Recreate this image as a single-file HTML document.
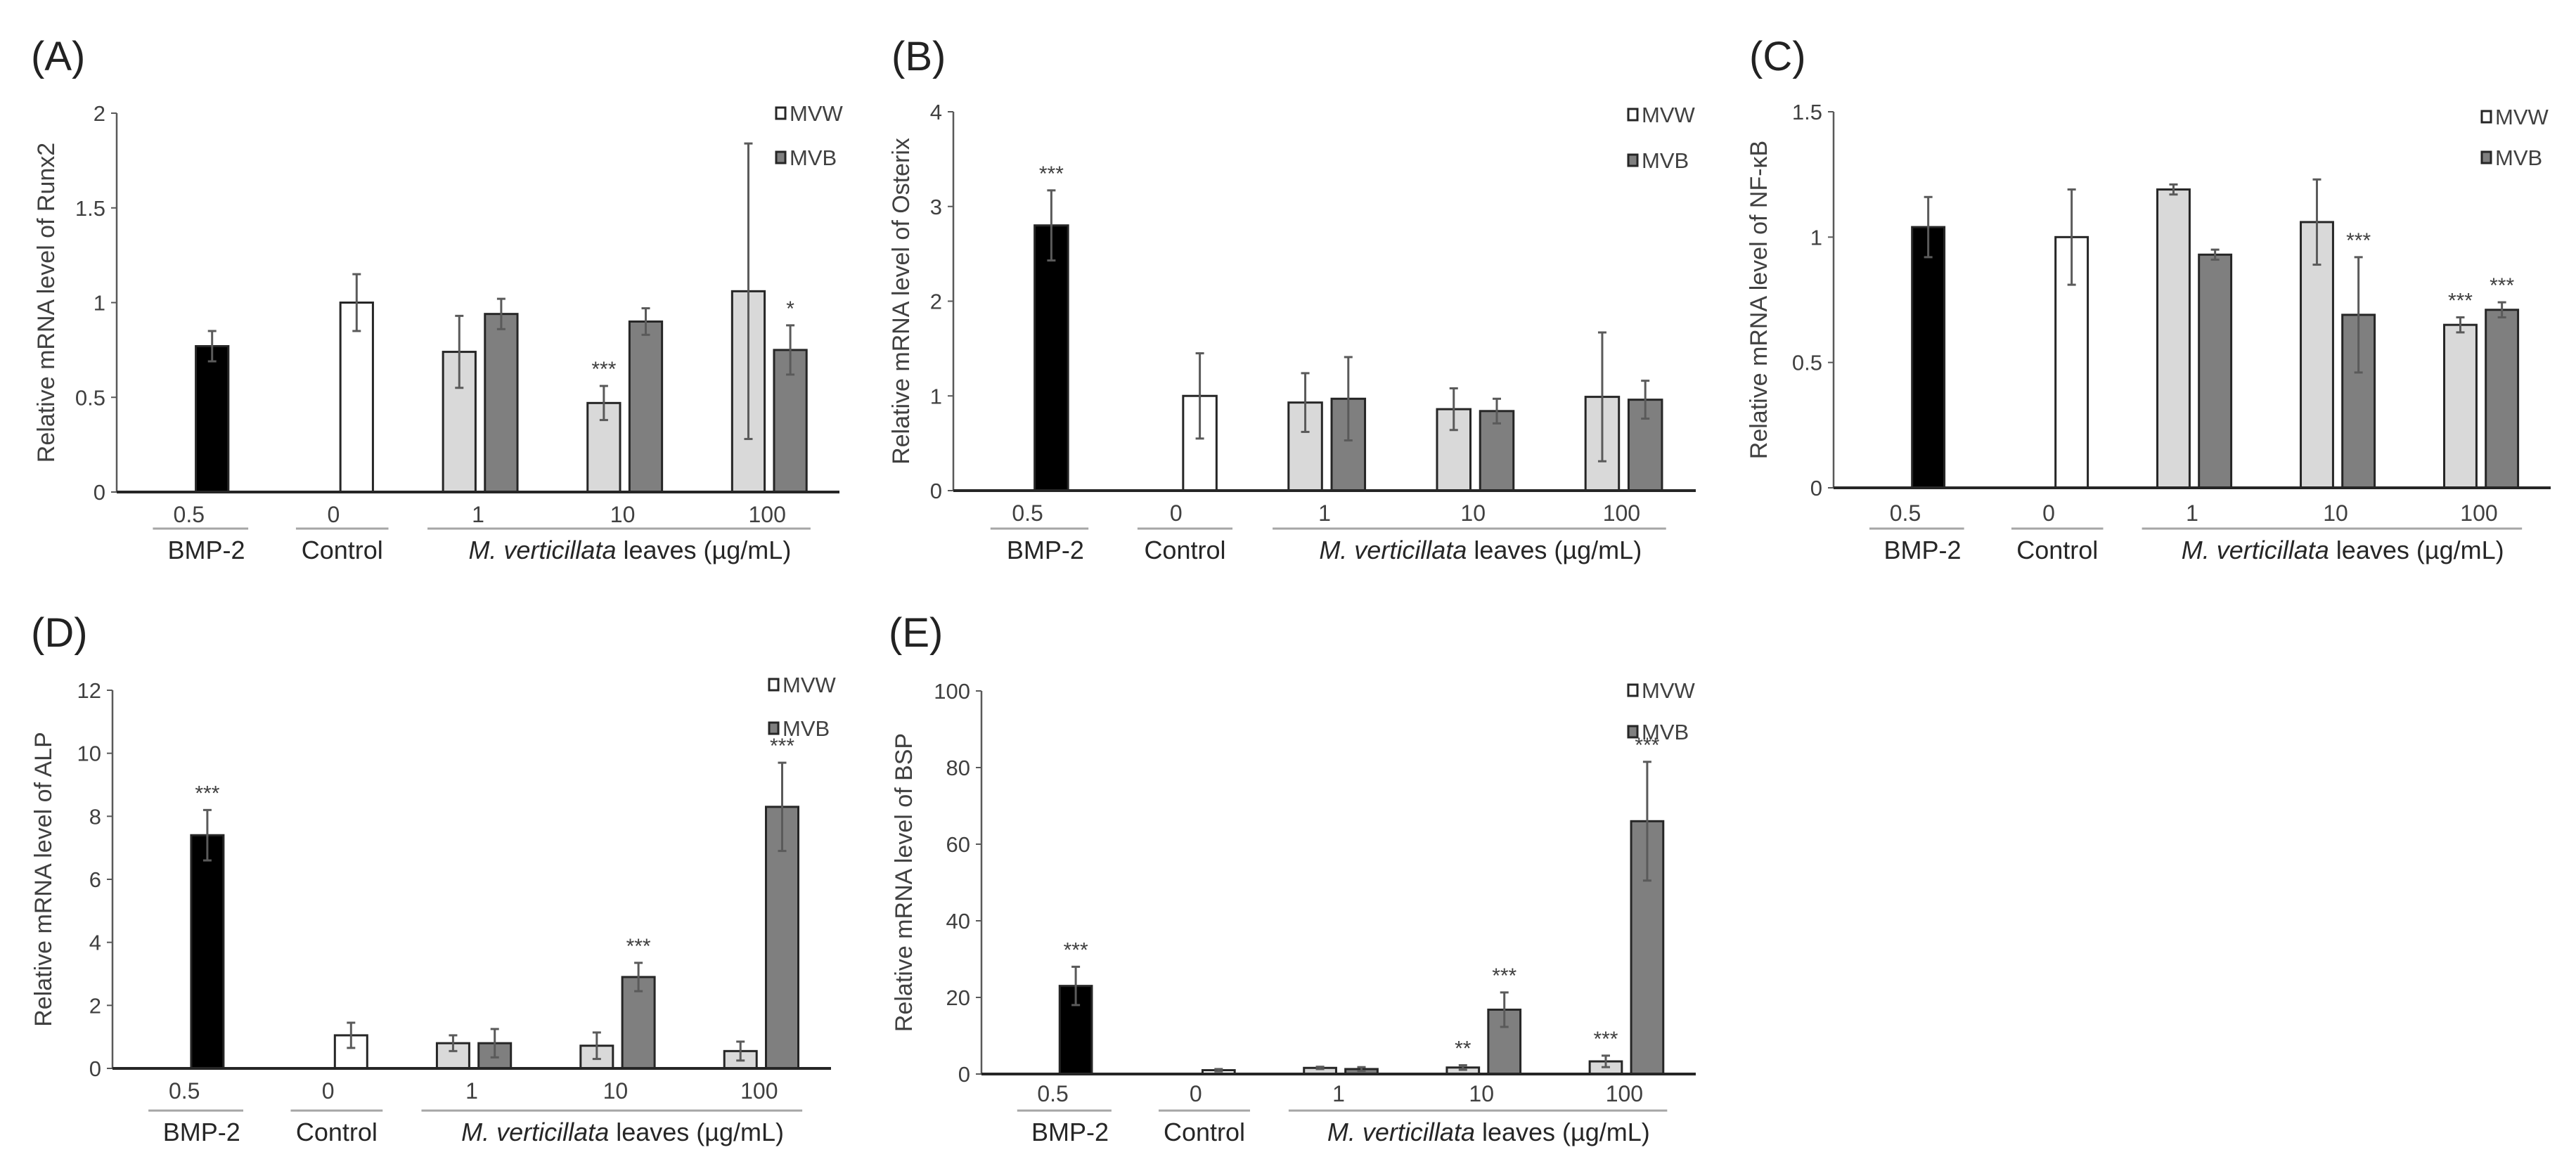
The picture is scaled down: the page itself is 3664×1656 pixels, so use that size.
<!DOCTYPE html>
<html><head><meta charset="utf-8"><style>
html,body{margin:0;padding:0;background:#fff;}
svg{display:block;font-family:"Liberation Sans",Arial,sans-serif;}
</style></head><body>
<svg id="fig" width="3664" height="1656" viewBox="0 0 3664 1656"></svg>
<script>
// ---- data arrays ----
const groupTicks = ["0.5","0","1","10","100"];
const A_ctrl = [0.77, 1.0];       const A_ctrlErr = [0.08, 0.15];
const A_mvw = [0.74, 0.47, 1.06]; const A_mvwErr = [0.19, 0.09, 0.78];
const A_mvb = [0.94, 0.90, 0.75]; const A_mvbErr = [0.08, 0.07, 0.13];
const A_ticks = [0, 0.5, 1, 1.5, 2];
const B_ctrl = [2.8, 1.0];        const B_ctrlErr = [0.37, 0.45];
const B_mvw = [0.93, 0.86, 0.99]; const B_mvwErr = [0.31, 0.22, 0.68];
const B_mvb = [0.97, 0.84, 0.96]; const B_mvbErr = [0.44, 0.13, 0.20];
const B_ticks = [0, 1, 2, 3, 4];
const C_ctrl = [1.04, 1.0];       const C_ctrlErr = [0.12, 0.19];
const C_mvw = [1.19, 1.06, 0.65]; const C_mvwErr = [0.02, 0.17, 0.03];
const C_mvb = [0.93, 0.69, 0.71]; const C_mvbErr = [0.02, 0.23, 0.03];
const C_ticks = [0, 0.5, 1, 1.5];
const D_ctrl = [7.4, 1.05];       const D_ctrlErr = [0.8, 0.4];
const D_mvw = [0.8, 0.72, 0.55];  const D_mvwErr = [0.25, 0.42, 0.3];
const D_mvb = [0.8, 2.9, 8.3];    const D_mvbErr = [0.45, 0.45, 1.4];
const D_ticks = [0, 2, 4, 6, 8, 10, 12];
const E_ctrl = [23, 1.0];         const E_ctrlErr = [5, 0.3];
const E_mvw = [1.6, 1.7, 3.3];    const E_mvwErr = [0.3, 0.6, 1.5];
const E_mvb = [1.3, 16.8, 66];    const E_mvbErr = [0.5, 4.5, 15.5];
const E_ticks = [0, 20, 40, 60, 80, 100];
// significance marks: [bmp, control], [mvw x3], [mvb x3]
const A_sigCtrl = ["",""];   const A_sigW = ["","***",""];   const A_sigB = ["","","*"];
const B_sigCtrl = ["***",""]; const B_sigW = ["","",""];     const B_sigB = ["","",""];
const C_sigCtrl = ["",""];   const C_sigW = ["","","***"];   const C_sigB = ["","***","***"];
const D_sigCtrl = ["***",""]; const D_sigW = ["","",""];     const D_sigB = ["","***","***"];
const E_sigCtrl = ["***",""]; const E_sigW = ["","**","***"]; const E_sigB = ["","***","***"];

const panels = [
 {id:"a",letter:"(A)",lx:44,ly:100,ax:166,top:161,zero:700,right:1194,max:2,ticks:A_ticks,title:"Relative mRNA level of Runx2",tx:68,
  ctrl:A_ctrl,ctrlErr:A_ctrlErr,w:A_mvw,wErr:A_mvwErr,b:A_mvb,bErr:A_mvbErr,sc:A_sigCtrl,sw:A_sigW,sb:A_sigB,legX:1104,legY1:161,legY2:224,tickY:732,ulY:752,grpY:782},
 {id:"b",letter:"(B)",lx:1268,ly:100,ax:1356,top:159,zero:698,right:2412,max:4,ticks:B_ticks,title:"Relative mRNA level of Osterix",tx:1284,
  ctrl:B_ctrl,ctrlErr:B_ctrlErr,w:B_mvw,wErr:B_mvwErr,b:B_mvb,bErr:B_mvbErr,sc:B_sigCtrl,sw:B_sigW,sb:B_sigB,legX:2316,legY1:163,legY2:228,tickY:730,ulY:752,grpY:782},
 {id:"c",letter:"(C)",lx:2488,ly:100,ax:2608,top:159,zero:694,right:3628,max:1.5,ticks:C_ticks,title:"Relative mRNA level of NF-κB",tx:2504,
  ctrl:C_ctrl,ctrlErr:C_ctrlErr,w:C_mvw,wErr:C_mvwErr,b:C_mvb,bErr:C_mvbErr,sc:C_sigCtrl,sw:C_sigW,sb:C_sigB,legX:3530,legY1:166,legY2:224,tickY:730,ulY:752,grpY:782},
 {id:"d",letter:"(D)",lx:44,ly:920,ax:160,top:982,zero:1520,right:1182,max:12,ticks:D_ticks,title:"Relative mRNA level of ALP",tx:64,
  ctrl:D_ctrl,ctrlErr:D_ctrlErr,w:D_mvw,wErr:D_mvwErr,b:D_mvb,bErr:D_mvbErr,sc:D_sigCtrl,sw:D_sigW,sb:D_sigB,legX:1094,legY1:974,legY2:1036,tickY:1552,ulY:1580,grpY:1610},
 {id:"e",letter:"(E)",lx:1264,ly:920,ax:1396,top:983,zero:1528,right:2412,max:100,ticks:E_ticks,title:"Relative mRNA level of BSP",tx:1288,
  ctrl:E_ctrl,ctrlErr:E_ctrlErr,w:E_mvw,wErr:E_mvwErr,b:E_mvb,bErr:E_mvbErr,sc:E_sigCtrl,sw:E_sigW,sb:E_sigB,legX:2316,legY1:982,legY2:1041,tickY:1556,ulY:1580,grpY:1610}
];

const NS = "http://www.w3.org/2000/svg";
const svg = document.getElementById("fig");
function mk(tag, attrs, parent, text){
  const el = document.createElementNS(NS, tag);
  for (const k in attrs) el.setAttribute(k, attrs[k]);
  if (text !== undefined) el.textContent = text;
  parent.appendChild(el);
  return el;
}

panels.forEach(p => {
  const g = mk("g", {}, svg);
  
  
  const W = (p.right - p.ax) / 5;
  const y = v => p.zero - v / p.max * (p.zero - p.top);
  const cc = i => p.ax + W * (i + 0.5);
  const bw = 0.225 * W;

  const lt = mk("text", {x:p.lx, y:p.ly, "font-size":58, fill:"#222"}, g, p.letter);
  
  

  p.ticks.forEach(t => {
    const tl = mk("text", {x:p.ax - 16, y:y(t) + 11, "font-size":31, fill:"#404040", "text-anchor":"end"}, g, String(t));
    
    
    mk("line", {x1:p.ax - 8, x2:p.ax, y1:y(t), y2:y(t), stroke:"#595959", "stroke-width":2}, g);
  });
  const ya = mk("line", {x1:p.ax, x2:p.ax, y1:p.top, y2:p.zero, stroke:"#595959", "stroke-width":2.5}, g);
  
  
  const yt = mk("text", {x:p.tx, y:(p.top + p.zero)/2, "font-size":34, fill:"#404040", "text-anchor":"middle",
    transform:`rotate(-90 ${p.tx} ${(p.top + p.zero)/2})`, "dominant-baseline":"middle"}, g, p.title);
  
  

  function bar(cx, v, e, fill, sig, name){
    const r = mk("rect", {x:cx - bw/2, y:y(v), width:bw, height:p.zero - y(v), fill:fill, stroke:"#262626", "stroke-width":3}, g);
    
    
    const eb = mk("g", {stroke:"#5a5a5a", "stroke-width":3}, g);
    
    
    mk("line", {x1:cx, x2:cx, y1:y(v + e), y2:y(Math.max(0, v - e))}, eb);
    mk("line", {x1:cx - 6, x2:cx + 6, y1:y(v + e), y2:y(v + e)}, eb);
    mk("line", {x1:cx - 6, x2:cx + 6, y1:y(Math.max(0, v - e)), y2:y(Math.max(0, v - e))}, eb);
    if (sig) {
      const s = mk("text", {x:cx, y:y(v + e) - 14, "font-size":30, fill:"#404040", "text-anchor":"middle"}, g, sig);
      
      
    }
  }
  bar(cc(0) + 0.16*W, p.ctrl[0], p.ctrlErr[0], "#000", p.sc[0], "bar-bmp2");
  bar(cc(1) + 0.16*W, p.ctrl[1], p.ctrlErr[1], "#fff", p.sc[1], "bar-control");
  for (let i = 0; i < 3; i++) {
    bar(cc(i+2) - 0.13*W, p.w[i], p.wErr[i], "#d9d9d9", p.sw[i], "bar-mvw-" + groupTicks[i+2]);
    bar(cc(i+2) + 0.16*W, p.b[i], p.bErr[i], "#7f7f7f", p.sb[i], "bar-mvb-" + groupTicks[i+2]);
  }
  const xa = mk("line", {x1:p.ax, x2:p.right, y1:p.zero, y2:p.zero, stroke:"#262626", "stroke-width":4}, g);
  
  

  groupTicks.forEach((t, i) => {
    const tl = mk("text", {x:cc(i), y:p.tickY + 11, "font-size":32, fill:"#404040", "text-anchor":"middle"}, g, t);
    
    
  });
  const ul = [[cc(0) - 0.25*W, cc(0) + 0.41*W], [cc(1) - 0.26*W, cc(1) + 0.38*W], [cc(2) - 0.35*W, cc(4) + 0.3*W]];
  ul.forEach(u => mk("line", {x1:u[0], x2:u[1], y1:p.ulY, y2:p.ulY, stroke:"#a6a6a6", "stroke-width":3}, g));
  const g1 = mk("text", {x:cc(0) + 0.12*W, y:p.grpY + 13, "font-size":36, fill:"#262626", "text-anchor":"middle"}, g, "BMP-2");
  
  
  const g2 = mk("text", {x:cc(1) + 0.06*W, y:p.grpY + 13, "font-size":36, fill:"#262626", "text-anchor":"middle"}, g, "Control");
  
  
  const g3 = mk("text", {x:cc(3) + 0.05*W, y:p.grpY + 13, "font-size":36, fill:"#262626", "text-anchor":"middle"}, g);
  
  
  mk("tspan", {"font-style":"italic"}, g3, "M. verticillata");
  mk("tspan", {}, g3, " leaves (µg/mL)");

  [[p.legY1, "#fff", "MVW"], [p.legY2, "#7f7f7f", "MVB"]].forEach(l => {
    const lg = mk("g", {}, g);
    
    
    mk("rect", {x:p.legX, y:l[0] - 8, width:13, height:16, fill:l[1], stroke:"#262626", "stroke-width":3}, lg);
    mk("text", {x:p.legX + 19, y:l[0] + 11, "font-size":31, fill:"#404040"}, lg, l[2]);
  });
});
</script>
</body></html>
